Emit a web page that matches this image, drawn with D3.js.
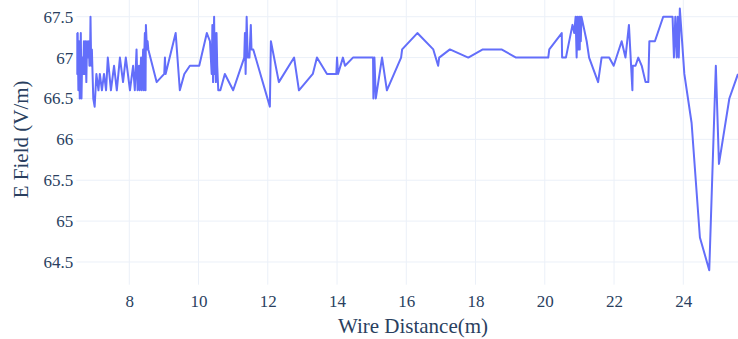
<!DOCTYPE html>
<html>
<head>
<meta charset="utf-8">
<script src="https://cdn.jsdelivr.net/npm/d3@7"></script>
<style>
  html, body { margin: 0; padding: 0; background: #fff; }
  svg { display: block; }
  text { font-family: "Liberation Serif", "Times New Roman", serif; fill: #2a3f5f; }
</style>
</head>
<body>
<svg id="chart" width="738" height="339"></svg>
<script>
// Wire distance along the cable (m)
const distance = [
  6.47, 6.49, 6.51, 6.53, 6.55, 6.57, 6.60, 6.62, 6.64, 6.67, 6.69, 6.71, 6.73, 6.76, 6.78, 6.81,
  6.83, 6.85, 6.87, 6.88, 6.90, 6.92, 6.94, 6.96, 7.00,
  7.05, 7.11, 7.15, 7.21, 7.27, 7.33, 7.38, 7.47, 7.56, 7.64, 7.73, 7.82, 7.90, 8.02, 8.11,
  8.16, 8.21, 8.24, 8.28, 8.30, 8.34, 8.36, 8.40, 8.42, 8.43, 8.45, 8.47, 8.48, 8.51, 8.53, 8.55,
  8.79, 9.01, 9.03, 9.05, 9.34, 9.46, 9.59, 9.75, 10.02, 10.24, 10.33,
  10.38, 10.40, 10.42, 10.45, 10.47, 10.48, 10.50, 10.52, 10.54, 10.57, 10.63, 10.76, 11.00,
  11.32, 11.34, 11.36, 11.39, 11.42, 11.47, 11.51, 11.53, 11.58, 12.06, 12.09, 12.32,
  12.76, 12.90, 13.30, 13.42, 13.71, 13.98, 14.00, 14.03, 14.17, 14.23, 14.46,
  15.04, 15.05, 15.08, 15.12, 15.30, 15.44, 15.85, 15.88, 16.32, 16.78, 16.92, 16.95,
  17.26, 17.79, 18.21, 18.75, 19.17, 20.10, 20.13, 20.49, 20.50, 20.61,
  20.80, 20.85, 20.89, 20.92, 20.94, 20.97, 20.99, 21.01, 21.02, 21.04, 21.06, 21.11,
  21.21, 21.28, 21.54, 21.64, 21.86, 21.99, 22.22, 22.33, 22.43, 22.53, 22.54, 22.62,
  22.70, 22.80, 22.91, 22.99, 23.02, 23.18, 23.42, 23.69, 23.73, 23.77, 23.81, 23.84,
  23.87, 23.90, 24.03, 24.24, 24.48, 24.75, 24.94, 25.03, 25.33, 25.58
];

// Measured electric field (V/m)
const efield = [
  67.3, 66.8, 67.3, 66.6, 67.2, 66.5, 67.3, 66.5, 67.0, 66.8, 67.2, 66.8, 67.2, 66.7, 67.2, 67.0,
  67.2, 66.9, 67.1, 67.5, 66.9, 67.1, 66.8, 66.5, 66.4,
  66.8, 66.6, 66.8, 66.6, 66.8, 66.6, 67.0, 66.6, 66.9, 66.6, 67.0, 66.7, 67.0, 66.6, 66.9,
  66.6, 67.1, 66.6, 66.9, 66.6, 67.0, 66.6, 67.1, 66.6, 67.0, 67.3, 66.6, 67.4, 67.1, 67.2, 67.1,
  66.7, 66.8, 67.0, 66.8, 67.3, 66.6, 66.8, 66.9, 66.9, 67.3, 67.2,
  66.8, 67.4, 66.7, 67.5, 66.8, 67.3, 66.7, 67.3, 66.9, 66.6, 66.6, 66.8, 66.6,
  67.0, 67.3, 66.8, 67.5, 67.0, 67.0, 67.4, 67.1, 67.1, 66.4, 67.2, 66.7,
  67.0, 66.6, 66.8, 67.0, 66.8, 66.8, 67.0, 66.8, 67.0, 66.9, 67.0,
  67.0, 66.5, 67.0, 66.5, 67.0, 66.6, 67.0, 67.1, 67.3, 67.1, 66.9, 67.0,
  67.1, 67.0, 67.1, 67.1, 67.0, 67.0, 67.1, 67.3, 67.0, 67.0,
  67.4, 67.3, 67.5, 67.0, 67.5, 67.1, 67.5, 67.1, 67.5, 67.2, 67.5, 67.4,
  67.2, 67.0, 66.7, 67.0, 67.0, 66.9, 67.2, 67.0, 67.4, 66.6, 66.9, 66.9,
  67.0, 66.9, 66.7, 66.7, 67.2, 67.2, 67.5, 67.5, 67.0, 67.5, 67.0, 67.5,
  67.0, 67.6, 66.8, 66.2, 64.8, 64.4, 66.9, 65.7, 66.5, 66.8
];

const xTicks = [8, 10, 12, 14, 16, 18, 20, 22, 24];
const yTicks = [64.5, 65, 65.5, 66, 66.5, 67, 67.5];

const xTitle = "Wire Distance(m)";
const yTitle = "E Field (V/m)";

// Plot frame
const plot = { left: 76.3, right: 738, top: -6, bottom: 284.7 };

const svg = d3.select("#chart");

const x = d3.scaleLinear()
  .domain(d3.extent(distance))
  .range([plot.left, plot.right]);

// y axis padded by 5% of its length on both ends
const [yMin, yMax] = d3.extent(efield);
const yPad = (yMax - yMin) / 18;
const y = d3.scaleLinear()
  .domain([yMin - yPad, yMax + yPad])
  .range([plot.bottom, plot.top]);

svg.append("defs").append("clipPath").attr("id", "plot-clip")
  .append("rect")
  .attr("x", plot.left).attr("y", plot.top)
  .attr("width", plot.right - plot.left).attr("height", plot.bottom - plot.top);

// Grid
const grid = svg.append("g").attr("class", "grid");
grid.selectAll("line.gx").data(xTicks).join("line")
  .attr("class", "gx")
  .attr("x1", d => x(d)).attr("x2", d => x(d))
  .attr("y1", plot.top).attr("y2", plot.bottom)
  .attr("stroke", "#ebf0f8").attr("stroke-width", 1);
grid.selectAll("line.gy").data(yTicks).join("line")
  .attr("class", "gy")
  .attr("x1", plot.left).attr("x2", plot.right)
  .attr("y1", d => y(d)).attr("y2", d => y(d))
  .attr("stroke", "#ebf0f8").attr("stroke-width", 1);

// Axes (labels only, no domain line or tick marks)
const xAxis = svg.append("g")
  .attr("transform", `translate(0,${plot.bottom})`)
  .call(d3.axisBottom(x).tickValues(xTicks).tickSize(0).tickPadding(10).tickFormat(d3.format("~g")));
const yAxis = svg.append("g")
  .attr("transform", `translate(${plot.left},0)`)
  .call(d3.axisLeft(y).tickValues(yTicks).tickSize(0).tickPadding(3).tickFormat(d3.format("~g")));

[xAxis, yAxis].forEach(g => {
  g.select(".domain").remove();
  g.selectAll("text")
    .attr("fill", "#2a3f5f")
    .style("font-size", "17px")
    .style("font-family", '"Liberation Serif", "Times New Roman", serif');
});

// Line trace
const points = distance.map((d, i) => [d, efield[i]]);
svg.append("path")
  .datum(points)
  .attr("clip-path", "url(#plot-clip)")
  .attr("fill", "none")
  .attr("stroke", "#636efa")
  .attr("stroke-width", 2)
  .attr("stroke-linejoin", "round")
  .attr("d", d3.line().x(d => x(d[0])).y(d => y(d[1])));

// Axis titles
svg.append("text")
  .attr("x", 413).attr("y", 333)
  .attr("text-anchor", "middle")
  .style("font-size", "21px")
  .text(xTitle);

svg.append("text")
  .attr("transform", `translate(28,${(plot.top + plot.bottom) / 2}) rotate(-90)`)
  .attr("text-anchor", "middle")
  .style("font-size", "21px")
  .text(yTitle);
</script>
</body>
</html>
